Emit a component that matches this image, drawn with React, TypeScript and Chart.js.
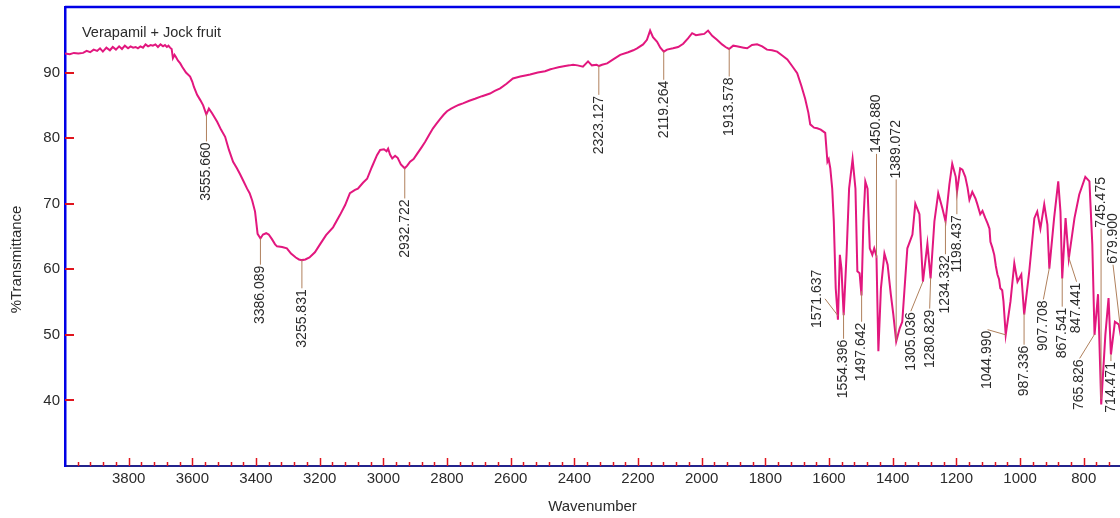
import React, { useEffect, useRef } from "react";
import { Chart, registerables } from "chart.js";

Chart.register(...registerables);

// ---- data (wavenumber in cm-1, %T) ----
const wavenumbers = [
  4000, 3985, 3972, 3958, 3943, 3932, 3921, 3910, 3899, 3890, 3881, 3870, 3859, 3850, 3840, 3830,
  3821, 3812, 3802, 3794, 3786, 3778, 3771, 3763, 3755, 3747, 3739, 3731, 3724, 3716, 3708, 3700,
  3692, 3686, 3680, 3675, 3670, 3665, 3661, 3656, 3652, 3645, 3638, 3632, 3620, 3607, 3600, 3595,
  3585, 3575, 3566, 3556, 3548, 3538, 3522, 3510, 3497, 3485, 3472, 3460, 3450, 3440, 3428, 3420,
  3412, 3403, 3395, 3386, 3378, 3368, 3360, 3350, 3340, 3334, 3318, 3303, 3290, 3275, 3265, 3256,
  3245, 3232, 3215, 3199, 3180, 3158, 3136, 3120, 3105, 3089, 3080, 3064, 3051, 3036, 3020, 3010,
  2998, 2990, 2985, 2979, 2972, 2963, 2955, 2945, 2933, 2925, 2916, 2905, 2894, 2880, 2869, 2856,
  2844, 2833, 2822, 2810, 2800, 2787, 2775, 2762, 2750, 2730, 2712, 2690, 2665, 2650, 2633, 2613,
  2593, 2570, 2550, 2539, 2515, 2492, 2475, 2467, 2450, 2429, 2415, 2404, 2390, 2373, 2357, 2345,
  2330, 2323, 2313, 2297, 2278, 2256, 2231, 2215, 2203, 2184, 2172, 2162, 2153, 2140, 2130, 2119,
  2109, 2090, 2074, 2058, 2043, 2030, 2018, 2005, 1992, 1980, 1967, 1952, 1936, 1925, 1914, 1901,
  1890, 1879, 1868, 1857, 1842, 1826, 1810, 1795, 1779, 1763, 1747, 1731, 1716, 1700, 1687, 1675,
  1665, 1659, 1647, 1637, 1626, 1612, 1605, 1601, 1596, 1590, 1585, 1579, 1572, 1566, 1561, 1554,
  1545, 1537, 1526, 1517, 1511, 1504, 1498, 1492, 1486, 1479, 1472, 1464, 1458, 1451, 1445, 1437,
  1426, 1416, 1406, 1398, 1389, 1378, 1370, 1354, 1338, 1329, 1316, 1305, 1291, 1281, 1269, 1257,
  1244, 1234, 1222, 1213, 1202, 1198, 1188, 1181, 1172, 1165, 1159, 1150, 1140, 1134, 1125, 1118,
  1109, 1102, 1096, 1093, 1087, 1081, 1076, 1071, 1066, 1062, 1056, 1052, 1045, 1030, 1018, 1008,
  996, 987, 971, 955, 946, 936, 924, 914, 908, 893, 880, 873, 867.5, 857, 847, 829,
  814, 795, 782, 773, 766, 755, 745, 732, 722, 714.5, 702, 690, 680, 670,
];

const transmittance = [
  92.9, 92.8, 93.0, 92.9, 93.0, 93.3, 93.1, 93.5, 93.3, 93.7, 93.2, 93.8, 93.4, 93.9, 93.5, 94.0,
  93.6, 94.1, 93.7, 94.0, 93.8, 93.9, 93.7, 94.0, 93.8, 94.3, 94.0, 94.2, 94.1, 94.3, 93.9, 94.3,
  94.0, 94.2, 93.9, 94.1, 93.8, 93.6, 92.2, 92.7, 92.4, 91.8, 91.4, 90.9, 90.0, 89.4, 88.6, 87.8,
  86.6, 85.8, 85.0, 83.6, 84.5, 83.8, 82.5, 81.3, 80.2, 78.2, 76.4, 75.4, 74.5, 73.5, 72.3, 71.6,
  70.5, 68.8, 65.4, 64.7, 65.3, 65.5, 65.3, 64.6, 63.8, 63.5, 63.4, 63.2, 62.4, 61.8, 61.5, 61.4,
  61.5, 61.8, 62.6, 63.8, 65.2, 66.4, 68.3, 69.8, 71.6, 72.1, 72.3, 73.2, 73.8, 75.6, 77.4, 78.2,
  78.3, 78.0, 78.4, 77.5, 76.9, 77.3, 77.0, 76.0, 75.4, 75.8, 76.4, 76.8, 77.6, 78.6, 79.4, 80.5,
  81.5, 82.2, 82.9, 83.6, 84.1, 84.5, 84.8, 85.1, 85.3, 85.7, 86.0, 86.4, 86.8, 87.2, 87.6, 88.3,
  89.1, 89.4, 89.6, 89.7, 90.0, 90.2, 90.5, 90.6, 90.8, 91.0, 91.1, 91.2, 91.1, 90.9, 91.7, 91.1,
  91.2, 91.0, 91.2, 91.4, 92.0, 92.7, 93.1, 93.4, 93.7, 94.3, 95.0, 96.4, 95.4, 94.7, 93.8, 93.2,
  93.5, 93.7, 93.9, 94.4, 95.2, 96.0, 95.7, 95.8, 95.9, 96.4, 95.6, 95.0, 94.3, 93.9, 93.6, 94.1,
  94.0, 93.9, 93.8, 93.7, 94.2, 94.3, 94.0, 93.5, 93.4, 93.2, 92.6, 92.0, 91.0, 89.9, 88.0, 86.0,
  83.9, 82.1, 81.6, 81.5, 81.3, 80.8, 76.4, 76.8, 75.4, 72.3, 67.3, 57.1, 52.3, 62.2, 60.1, 53.0,
  62.2, 72.3, 76.8, 72.3, 59.7, 59.4, 56.0, 67.3, 73.4, 72.3, 63.2, 62.2, 63.2, 62.0, 47.5, 57.1,
  62.4, 60.7, 56.2, 53.1, 49.0, 51.0, 52.0, 63.2, 65.3, 70.0, 68.4, 58.1, 63.9, 58.6, 67.3, 71.6,
  69.3, 67.3, 72.9, 76.1, 74.1, 71.8, 75.4, 75.2, 74.1, 72.5, 70.6, 71.8, 70.8, 69.9, 68.4, 68.9,
  67.8, 67.0, 66.2, 64.2, 63.3, 62.2, 60.5, 59.2, 58.5, 57.1, 56.8, 55.1, 50.0, 55.1, 60.9, 58.1,
  59.2, 53.1, 59.7, 67.8, 68.8, 66.2, 69.9, 66.8, 60.1, 67.8, 73.4, 68.8, 58.6, 67.8, 61.6, 67.8,
  71.4, 74.1, 73.4, 63.8, 50.0, 56.2, 39.4, 50.0, 55.6, 47.0, 52.0, 51.6, 49.0, 50.5,
];

const yTickValues = [40, 50, 60, 70, 80, 90];
const xTickValues = [3800, 3600, 3400, 3200, 3000, 2800, 2600, 2400, 2200, 2000, 1800, 1600, 1400, 1200, 1000, 800];

const peakWavenumbers = [
  3555.66, 3386.089, 3255.831, 2932.722, 2323.127, 2119.264, 1913.578, 1571.637, 1554.396,
  1497.642, 1450.88, 1389.072, 1305.036, 1280.829, 1234.332, 1198.437, 1044.99, 987.336,
  907.708, 867.541, 847.441, 765.826, 745.475, 714.471, 679.9,
];
const peakLabels = [
  "3555.660", "3386.089", "3255.831", "2932.722", "2323.127", "2119.264", "1913.578", "1571.637",
  "1554.396", "1497.642", "1450.880", "1389.072", "1305.036", "1280.829", "1234.332", "1198.437",
  "1044.990", "987.336", "907.708", "867.541", "847.441", "765.826", "745.475", "714.471", "679.900",
];
// where the text sits relative to its leader line
const labelSide = [
  "below", "below", "below", "below", "below", "below", "below", "left", "below",
  "below", "above", "above", "below", "below", "below", "below", "below", "below",
  "below", "below", "below", "below", "above", "below", "above",
];
// %T at the end of the text that meets the leader line
const labelTextT = [
  79.5, 60.7, 57.1, 70.8, 86.6, 88.9, 89.4, 55.5, 49.4,
  52.0, 77.6, 73.7, 53.6, 54.0, 62.3, 68.4, 50.8, 48.5,
  55.4, 54.3, 58.1, 46.4, 66.2, 46.0, 60.7,
];
// wavenumber shift of the text from its peak
const labelShift = [
  0, 0, 0, 0, 0, 0, 0, 41, 0,
  0, 0, 0, 38, 3, 0, 0, 57, 0,
  19, 0, -25, 47, 0, 0, 28,
];

const FONT = "'Liberation Sans', Arial, sans-serif";
const TEXT = "#2b2b2b";

function transmittanceAt(w: number): number {
  for (let i = 0; i < wavenumbers.length - 1; i++) {
    const a = wavenumbers[i];
    const b = wavenumbers[i + 1];
    if (w <= a && w >= b) {
      const f = (a - w) / (a - b);
      return transmittance[i] + f * (transmittance[i + 1] - transmittance[i]);
    }
  }
  return transmittance[transmittance.length - 1];
}

const decorations = {
  id: "decorations",
  afterDatasetsDraw(chart: any) {
    const { ctx, chartArea } = chart;
    const x = chart.scales.x;
    const y = chart.scales.y;
    ctx.save();

    // top frame line
    ctx.strokeStyle = "#0000e6";
    ctx.lineWidth = 2.5;
    ctx.beginPath();
    ctx.moveTo(chartArea.left, chartArea.top);
    ctx.lineTo(chartArea.right, chartArea.top);
    ctx.stroke();

    // y tick marks (inward)
    ctx.strokeStyle = "#e0141e";
    ctx.lineWidth = 2;
    for (const v of yTickValues) {
      const py = Math.round(y.getPixelForValue(v));
      ctx.beginPath();
      ctx.moveTo(chartArea.left, py);
      ctx.lineTo(chartArea.left + 9, py);
      ctx.stroke();
    }

    // x tick marks (inward), minor every 40
    ctx.lineWidth = 1.5;
    for (let v = 3960; v >= x.min; v -= 40) {
      const px = Math.round(x.getPixelForValue(v)) + 0.5;
      const len = v % 200 === 0 ? 8 : 4;
      ctx.beginPath();
      ctx.moveTo(px, chartArea.bottom);
      ctx.lineTo(px, chartArea.bottom - len);
      ctx.stroke();
    }

    // y axis title
    ctx.save();
    ctx.translate(16.5, y.getPixelForValue(61.5));
    ctx.rotate(-Math.PI / 2);
    ctx.fillStyle = TEXT;
    ctx.font = `15px ${FONT}`;
    ctx.textAlign = "center";
    ctx.textBaseline = "middle";
    ctx.fillText("%Transmittance", 0, 0);
    ctx.restore();

    // sample name
    ctx.fillStyle = TEXT;
    ctx.font = `14.5px ${FONT}`;
    ctx.textAlign = "left";
    ctx.textBaseline = "middle";
    ctx.fillText("Verapamil + Jock fruit", chartArea.left + 17, chartArea.top + 26);

    // peak labels
    ctx.font = `14px ${FONT}`;
    for (let i = 0; i < peakWavenumbers.length; i++) {
      const w = peakWavenumbers[i];
      const px = x.getPixelForValue(w);
      const py = y.getPixelForValue(transmittanceAt(w));
      const lx = x.getPixelForValue(w + labelShift[i]);
      const ly = y.getPixelForValue(labelTextT[i]);
      ctx.strokeStyle = "#b0805c";
      ctx.lineWidth = 1;
      ctx.beginPath();
      ctx.moveTo(px, py);
      ctx.lineTo(lx, ly);
      ctx.stroke();

      ctx.save();
      ctx.translate(lx, ly);
      ctx.rotate(-Math.PI / 2);
      ctx.fillStyle = TEXT;
      const side = labelSide[i];
      if (side === "below") {
        ctx.textAlign = "right";
        ctx.textBaseline = "middle";
        ctx.fillText(peakLabels[i], -1, 0);
      } else if (side === "above") {
        ctx.textAlign = "left";
        ctx.textBaseline = "middle";
        ctx.fillText(peakLabels[i], 1, 0);
      } else {
        ctx.textAlign = "center";
        ctx.textBaseline = "bottom";
        ctx.fillText(peakLabels[i], 0, -1);
      }
      ctx.restore();
    }
    ctx.restore();
  },
};

export default function App() {
  const canvasRef = useRef<HTMLCanvasElement | null>(null);

  useEffect(() => {
    if (!canvasRef.current) return;
    const points = wavenumbers.map((w, i) => ({ x: w, y: transmittance[i] }));
    const chart = new Chart(canvasRef.current, {
      type: "line",
      data: {
        datasets: [
          {
            label: "Verapamil + Jock fruit",
            data: points,
            borderColor: "#e2177e",
            borderWidth: 2,
            pointRadius: 0,
            tension: 0,
            fill: false,
          },
        ],
      },
      options: {
        animation: false,
        responsive: false,
        maintainAspectRatio: false,
        events: [],
        layout: { padding: { left: 0, right: 0, top: 7, bottom: 0 } },
        plugins: {
          legend: { display: false },
          tooltip: { enabled: false },
          title: { display: false },
        },
        scales: {
          x: {
            type: "linear",
            reverse: true,
            min: 686,
            max: 4000,
            afterBuildTicks: (s: any) => {
              s.ticks = xTickValues.map((v) => ({ value: v }));
            },
            afterFit: (s: any) => {
              s.height = 52;
              s.paddingLeft = 0;
              s.paddingRight = 0;
            },
            ticks: {
              autoSkip: false,
              maxRotation: 0,
              padding: 4,
              color: TEXT,
              font: { family: FONT, size: 15 },
              callback: (v: any) => String(v),
            },
            grid: { display: false, drawTicks: false },
            border: { display: true, color: "#23238c", width: 2 },
            title: {
              display: true,
              text: "Wavenumber",
              color: TEXT,
              font: { family: FONT, size: 15 },
              padding: { top: 0, bottom: 2 },
            },
          },
          y: {
            type: "linear",
            min: 30,
            max: 100,
            afterBuildTicks: (s: any) => {
              s.ticks = yTickValues.map((v) => ({ value: v }));
            },
            afterFit: (s: any) => {
              s.width = 65;
              s.paddingTop = 0;
              s.paddingBottom = 0;
            },
            ticks: {
              padding: 5,
              color: TEXT,
              font: { family: FONT, size: 15 },
            },
            grid: { display: false, drawTicks: false },
            border: { display: true, color: "#0000e6", width: 2.5 },
            title: { display: false },
          },
        },
      },
      plugins: [decorations],
    });
    return () => chart.destroy();
  }, []);

  return (
    <div style={{ position: "fixed", left: 0, top: 0, width: 1120, height: 518, overflow: "hidden", background: "#fff" }}>
      <canvas ref={canvasRef} width={1120} height={518} style={{ display: "block" }} />
    </div>
  );
}
